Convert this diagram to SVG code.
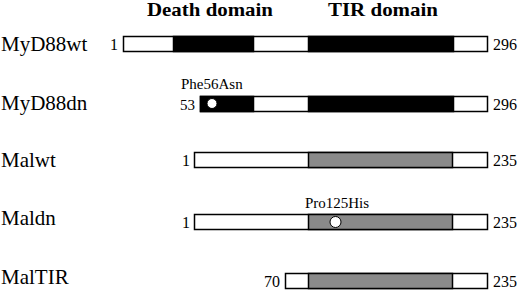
<svg xmlns="http://www.w3.org/2000/svg" width="520" height="292" viewBox="0 0 520 292">
<style>
text{font-family:"Liberation Serif","Times New Roman",serif;fill:#000}
.hd{font-size:19px;font-weight:bold}
.lb{font-size:21px}
.num{font-size:16px}
.mut{font-size:15px}
.w{fill:#fff;stroke:#000;stroke-width:1.5}
.b{fill:#000;stroke:#000;stroke-width:1.5}
.g{fill:#8a8a8a;stroke:#000;stroke-width:1.5}
.dot{fill:#fff;stroke:#000;stroke-width:1}
</style>
<rect width="520" height="292" fill="#fff"/>
<g id="headers">
<text class="hd" x="147" y="16" textLength="126" lengthAdjust="spacingAndGlyphs">Death domain</text>
<text class="hd" x="328" y="16" textLength="110" lengthAdjust="spacingAndGlyphs">TIR domain</text>
</g>
<g id="MyD88wt">
<text class="lb" x="1" y="51">MyD88wt</text>
<text class="num" x="118" y="50" text-anchor="end">1</text>
<rect class="w" x="123.5" y="36.5" width="364" height="15"/>
<rect class="b" x="173.5" y="36.5" width="80" height="15"/>
<rect class="b" x="308.5" y="36.5" width="145" height="15"/>
<text class="num" x="493" y="50">296</text>
</g>
<g id="MyD88dn">
<text class="lb" x="1" y="110">MyD88dn</text>
<text class="mut" x="181" y="89">Phe56Asn</text>
<text class="mut" x="195" y="110" text-anchor="end">53</text>
<rect class="w" x="200.5" y="96.5" width="287" height="15"/>
<rect class="b" x="200.5" y="96.5" width="53" height="15"/>
<rect class="b" x="308.5" y="96.5" width="145" height="15"/>
<circle class="dot" cx="212" cy="103.5" r="5"/>
<text class="num" x="493" y="110">296</text>
</g>
<g id="Malwt">
<text class="lb" x="1" y="167">Malwt</text>
<text class="num" x="190" y="166" text-anchor="end">1</text>
<rect class="w" x="194.5" y="152.5" width="293" height="15"/>
<rect class="g" x="308.5" y="152.5" width="144" height="15"/>
<text class="num" x="493" y="166">235</text>
</g>
<g id="Maldn">
<text class="lb" x="1" y="225">Maldn</text>
<text class="mut" x="337" y="208" text-anchor="middle">Pro125His</text>
<text class="num" x="190" y="228" text-anchor="end">1</text>
<rect class="w" x="194.5" y="214.5" width="293" height="15"/>
<rect class="g" x="308.5" y="214.5" width="144" height="15"/>
<circle class="dot" cx="335.5" cy="222" r="5.5"/>
<text class="num" x="493" y="228">235</text>
</g>
<g id="MalTIR">
<text class="lb" x="1" y="284">MalTIR</text>
<text class="num" x="280" y="287" text-anchor="end">70</text>
<rect class="w" x="285.5" y="273.5" width="202" height="15"/>
<rect class="g" x="308.5" y="273.5" width="144" height="15"/>
<text class="num" x="493" y="287">235</text>
</g>
<g id="connectors"></g>
</svg>
